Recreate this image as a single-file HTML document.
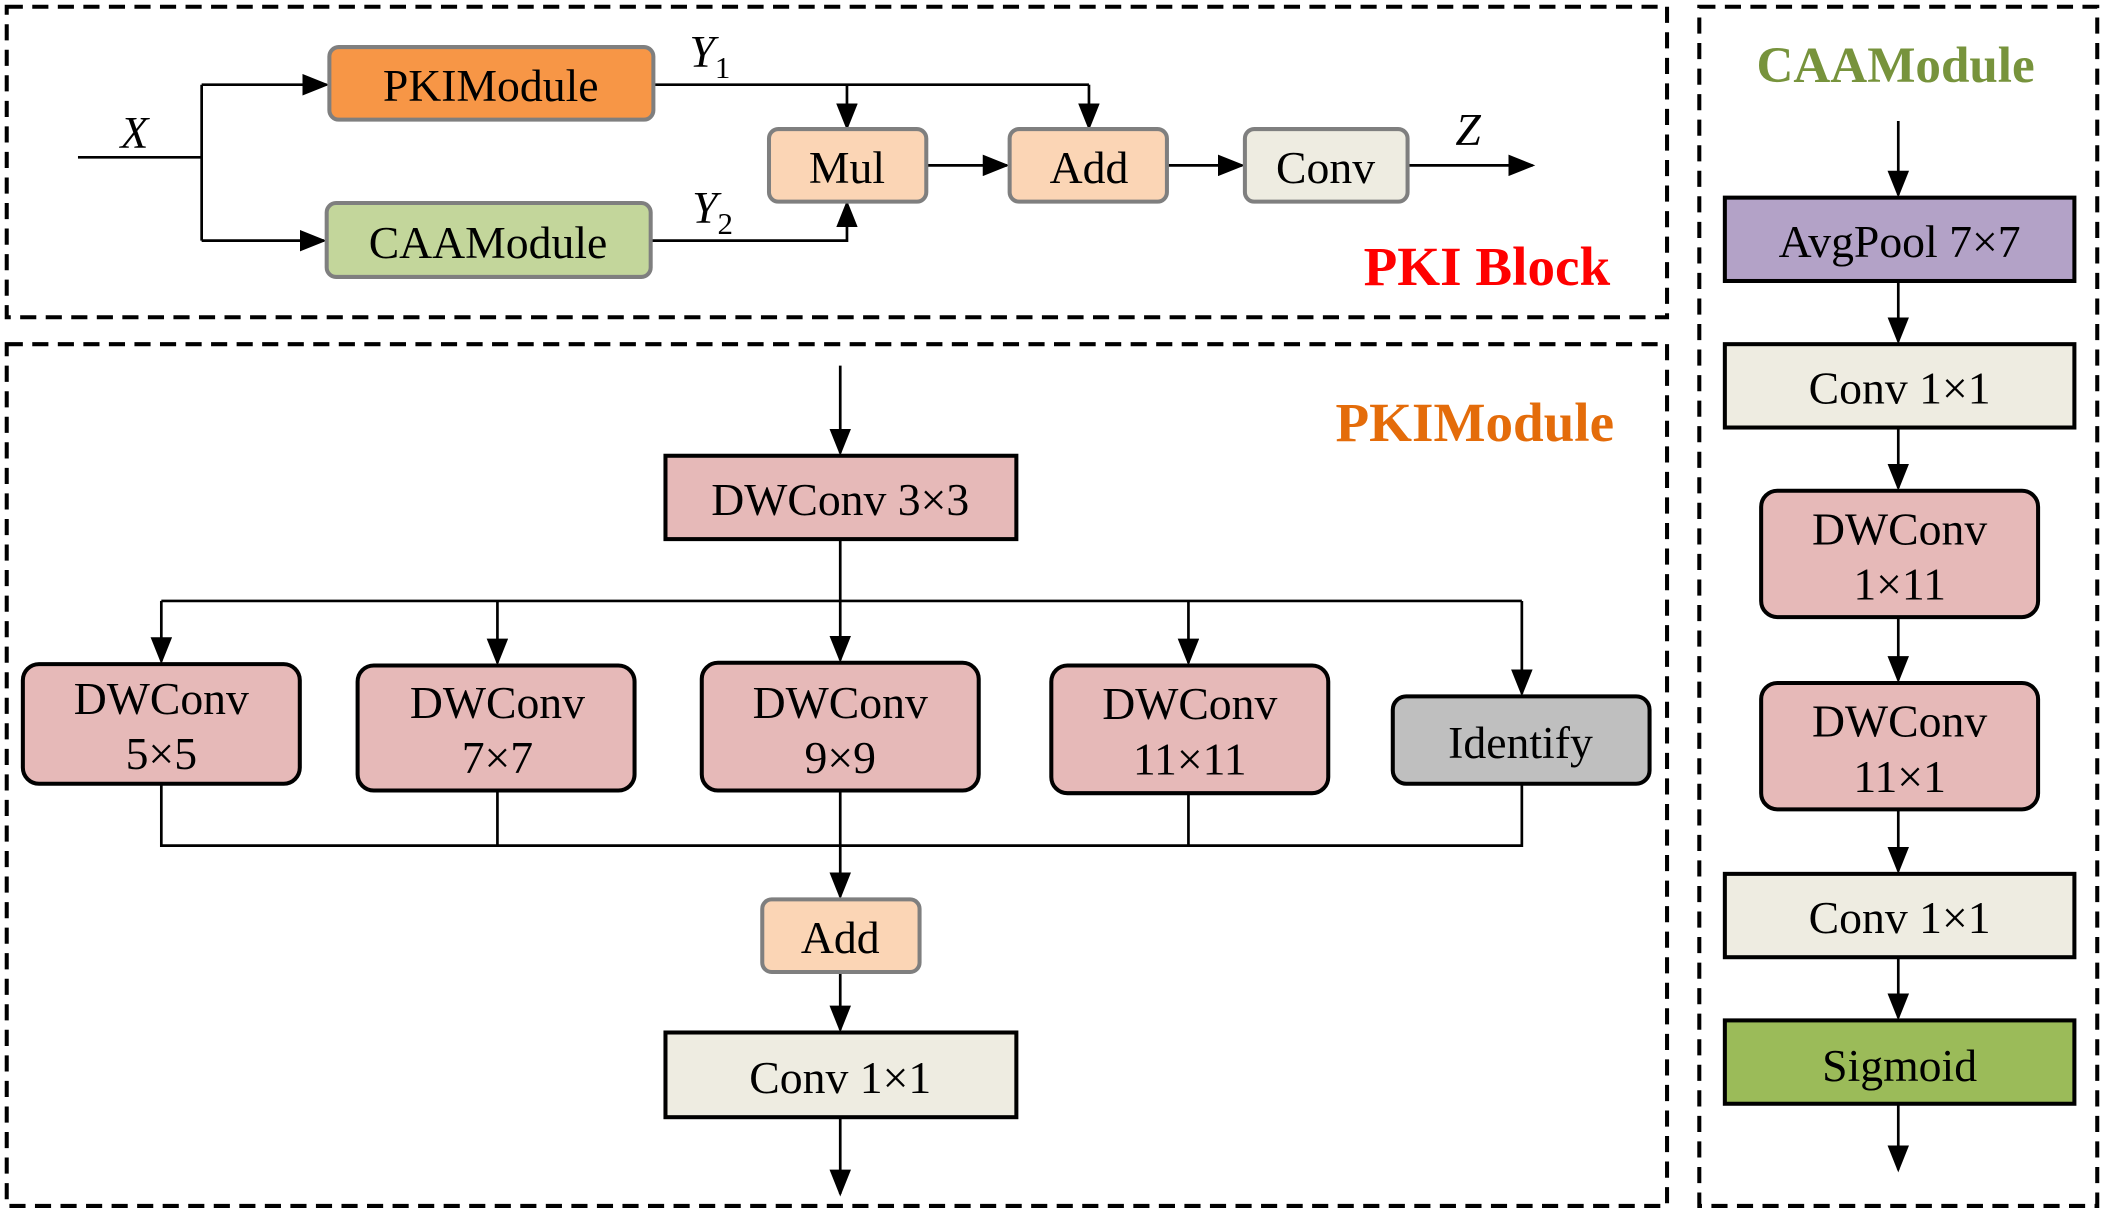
<!DOCTYPE html>
<html><head><meta charset="utf-8"><style>
html,body{margin:0;padding:0;background:#fff;}
svg{display:block;}
text{font-family:"Liberation Serif",serif;font-size:34px;fill:#000;text-anchor:middle;}
</style></head><body>
<svg width="2108" height="1214" viewBox="0 0 1568 903" xmlns="http://www.w3.org/2000/svg">
<defs>
<marker id="b" markerWidth="20" markerHeight="16" refX="18" refY="8" orient="auto" markerUnits="userSpaceOnUse" viewBox="0 0 20 16">
<path d="M0,0 L20,8 L0,16 z" fill="#000"/></marker>
</defs>
<g fill="none" stroke="#000" stroke-width="3" stroke-dasharray="12,7">
<rect x="5" y="5" width="1235" height="231"/>
<rect x="5" y="256" width="1235" height="641"/>
<rect x="1264" y="5" width="296" height="892"/>
</g>
<g stroke="#000" stroke-width="2" fill="none">
<path d="M58,117 H150 M150,63 V179"/>
<path d="M150,63 H243" marker-end="url(#b)"/>
<path d="M150,179 H241" marker-end="url(#b)"/>
<path d="M486,63 H810"/>
<path d="M630,63 V95" marker-end="url(#b)"/>
<path d="M810,63 V95" marker-end="url(#b)"/>
<path d="M484,179 H630 V151" marker-end="url(#b)"/>
<path d="M689,123 H749" marker-end="url(#b)"/>
<path d="M868,123 H924" marker-end="url(#b)"/>
<path d="M1047,123 H1140" marker-end="url(#b)"/>
<path d="M625,272 V337" marker-end="url(#b)"/>
<path d="M625,401 V491" marker-end="url(#b)"/>
<path d="M120,447 H1132"/>
<path d="M120,447 V492" marker-end="url(#b)"/>
<path d="M370,447 V493" marker-end="url(#b)"/>
<path d="M884,447 V493" marker-end="url(#b)"/>
<path d="M1132,447 V516" marker-end="url(#b)"/>
<path d="M120,583 V629 H1132 V583 M370,588 V629 M884,590 V629"/>
<path d="M625,588 V667" marker-end="url(#b)"/>
<path d="M625,723 V766" marker-end="url(#b)"/>
<path d="M625,831 V888" marker-end="url(#b)"/>
<path d="M1412,90 V145" marker-end="url(#b)"/>
<path d="M1412,209 V254" marker-end="url(#b)"/>
<path d="M1412,318 V363" marker-end="url(#b)"/>
<path d="M1412,459 V506" marker-end="url(#b)"/>
<path d="M1412,602 V648" marker-end="url(#b)"/>
<path d="M1412,712 V757" marker-end="url(#b)"/>
<path d="M1412,821 V870" marker-end="url(#b)"/>
</g>
<g stroke="#7f7f7f" stroke-width="3">
<rect x="245" y="35" width="241" height="54" rx="7" fill="#F79646"/>
<rect x="243" y="151" width="241" height="55" rx="7" fill="#C3D69B"/>
<rect x="572" y="96" width="117" height="54" rx="7" fill="#FBD5B5"/>
<rect x="751" y="96" width="117" height="54" rx="7" fill="#FBD5B5"/>
<rect x="926" y="96" width="121" height="54" rx="7" fill="#EEECE1"/>
<rect x="567" y="669" width="117" height="54" rx="7" fill="#FBD5B5"/>
</g>
<g stroke="#000" stroke-width="3">
<rect x="495" y="339" width="261" height="62" fill="#E6B9B8"/>
<rect x="17" y="494" width="206" height="89" rx="12" fill="#E6B9B8"/>
<rect x="266" y="495" width="206" height="93" rx="12" fill="#E6B9B8"/>
<rect x="522" y="493" width="206" height="95" rx="12" fill="#E6B9B8"/>
<rect x="782" y="495" width="206" height="95" rx="12" fill="#E6B9B8"/>
<rect x="1036" y="518" width="191" height="65" rx="10" fill="#BFBFBF"/>
<rect x="495" y="768" width="261" height="63" fill="#EEECE1"/>
<rect x="1283" y="147" width="260" height="62" fill="#B3A2C7"/>
<rect x="1283" y="256" width="260" height="62" fill="#EEECE1"/>
<rect x="1310" y="365" width="206" height="94" rx="12" fill="#E6B9B8"/>
<rect x="1310" y="508" width="206" height="94" rx="12" fill="#E6B9B8"/>
<rect x="1283" y="650" width="260" height="62" fill="#EEECE1"/>
<rect x="1283" y="759" width="260" height="62" fill="#9BBB59"/>
</g>
<text x="365" y="75">PKIModule</text>
<text x="363" y="192">CAAModule</text>
<text x="630" y="136">Mul</text>
<text x="810" y="136">Add</text>
<text x="986" y="136">Conv</text>
<text x="100" y="110" font-style="italic">X</text>
<text x="528" y="50" font-style="italic">Y<tspan style="font-size:23px;font-style:normal" dy="8">1</tspan></text>
<text x="530" y="166" font-style="italic">Y<tspan style="font-size:23px;font-style:normal" dy="8">2</tspan></text>
<text x="1092" y="108" font-style="italic">Z</text>
<text x="1106" y="212" style="font-size:41px;font-weight:bold;fill:#FF0000">PKI Block</text>
<text x="1097" y="328" style="font-size:41px;font-weight:bold;fill:#E46C0A">PKIModule</text>
<text x="625" y="383">DWConv 3×3</text>
<text x="120" y="531">DWConv</text><text x="120" y="572">5×5</text>
<text x="370" y="534">DWConv</text><text x="370" y="575">7×7</text>
<text x="625" y="534">DWConv</text><text x="625" y="575">9×9</text>
<text x="885" y="535">DWConv</text><text x="885" y="576">11×11</text>
<text x="1131" y="564">Identify</text>
<text x="625" y="709">Add</text>
<text x="625" y="813">Conv 1×1</text>
<text x="1410" y="61" style="font-size:38px;font-weight:bold;fill:#77933C">CAAModule</text>
<text x="1413" y="191">AvgPool 7×7</text>
<text x="1413" y="300">Conv 1×1</text>
<text x="1413" y="405">DWConv</text><text x="1413" y="446">1×11</text>
<text x="1413" y="548">DWConv</text><text x="1413" y="589">11×1</text>
<text x="1413" y="694">Conv 1×1</text>
<text x="1413" y="804">Sigmoid</text>
</svg>
</body></html>
